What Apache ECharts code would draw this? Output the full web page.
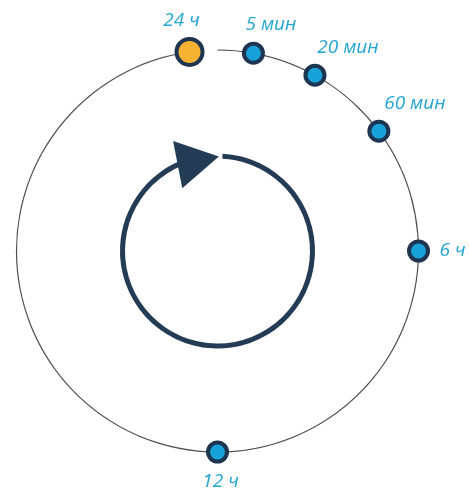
<!DOCTYPE html>
<html>
<head>
<meta charset="utf-8">
<script src="https://cdn.jsdelivr.net/npm/echarts@6/dist/echarts.min.js"></script>
<style>
  html, body { margin: 0; padding: 0; background: #fff; }
  #chart { width: 469px; height: 493px; }
</style>
</head>
<body>
<div id="chart"></div>
<script>
// интервалы повторения, угол по кругу (градусы по часовой от верха)
var labels = ['24 ч', '5 мин', '20 мин', '60 мин', '6 ч', '12 ч']
var angles = [352, 10.3, 29, 53.4, 90, 180]
var radii = [201, 201, 201, 201, 201, 201]

// стрелка внутреннего круга
var arrowAngle = 348
var arrowRadius = 92.4

var labelOffsets = [[-8, -31], [17.5, -29], [33, -28], [36, -28], [34, 0], [3, 30]]

var cx = 217.5
var cy = 251

var chart = echarts.init(document.getElementById('chart'))

var points = labels.map(function (name, i) {
  var first = i === 0
  return {
    name: name,
    value: [radii[i], angles[i]],
    symbolSize: first ? 26 : 19,
    itemStyle: {
      color: first ? '#f6b232' : '#17a2d9'
    },
    label: {
      offset: labelOffsets[i]
    }
  }
})

var ringBase = {
  type: 'gauge',
  center: [cx, cy],
  min: 0,
  max: 1,
  splitLine: { show: false },
  axisTick: { show: false },
  axisLabel: { show: false },
  pointer: { show: false },
  anchor: { show: false },
  title: { show: false },
  detail: { show: false },
  progress: { show: false },
  silent: true,
  data: []
}

var option = {
  animation: false,
  polar: {
    center: [cx, cy],
    radius: 201
  },
  angleAxis: {
    type: 'value',
    min: 0,
    max: 360,
    startAngle: 90,
    clockwise: true,
    axisLine: { show: false },
    axisTick: { show: false },
    axisLabel: { show: false },
    splitLine: { show: false }
  },
  radiusAxis: {
    type: 'value',
    min: 0,
    max: 201,
    axisLine: { show: false },
    axisTick: { show: false },
    axisLabel: { show: false },
    splitLine: { show: false }
  },
  series: [
    // внешний круг с разрывом у 24 ч
    Object.assign({}, ringBase, {
      radius: 201.6,
      startAngle: 90,
      endAngle: -265,
      axisLine: {
        lineStyle: { width: 1.2, color: [[1, '#505050']] }
      }
    }),
    // внутренний круг
    Object.assign({}, ringBase, {
      radius: 97.5,
      startAngle: 87,
      endAngle: -248,
      axisLine: {
        lineStyle: { width: 5, color: [[1, '#233b55']] }
      }
    }),
    {
      type: 'scatter',
      coordinateSystem: 'polar',
      silent: true,
      symbol: 'triangle',
      symbolSize: [48, 42],
      symbolRotate: -79,
      itemStyle: { color: '#233b55', opacity: 1 },
      data: [[arrowRadius, arrowAngle]]
    },
    {
      type: 'scatter',
      coordinateSystem: 'polar',
      silent: true,
      symbol: 'circle',
      itemStyle: {
        borderColor: '#1d3550',
        borderWidth: 4,
        opacity: 1
      },
      label: {
        show: true,
        position: 'inside',
        formatter: '{b}',
        color: '#22a5d2',
        fontFamily: 'Open Sans',
        fontStyle: 'italic',
        fontSize: 19
      },
      data: points
    }
  ]
}

chart.setOption(option)
</script>
</body>
</html>
